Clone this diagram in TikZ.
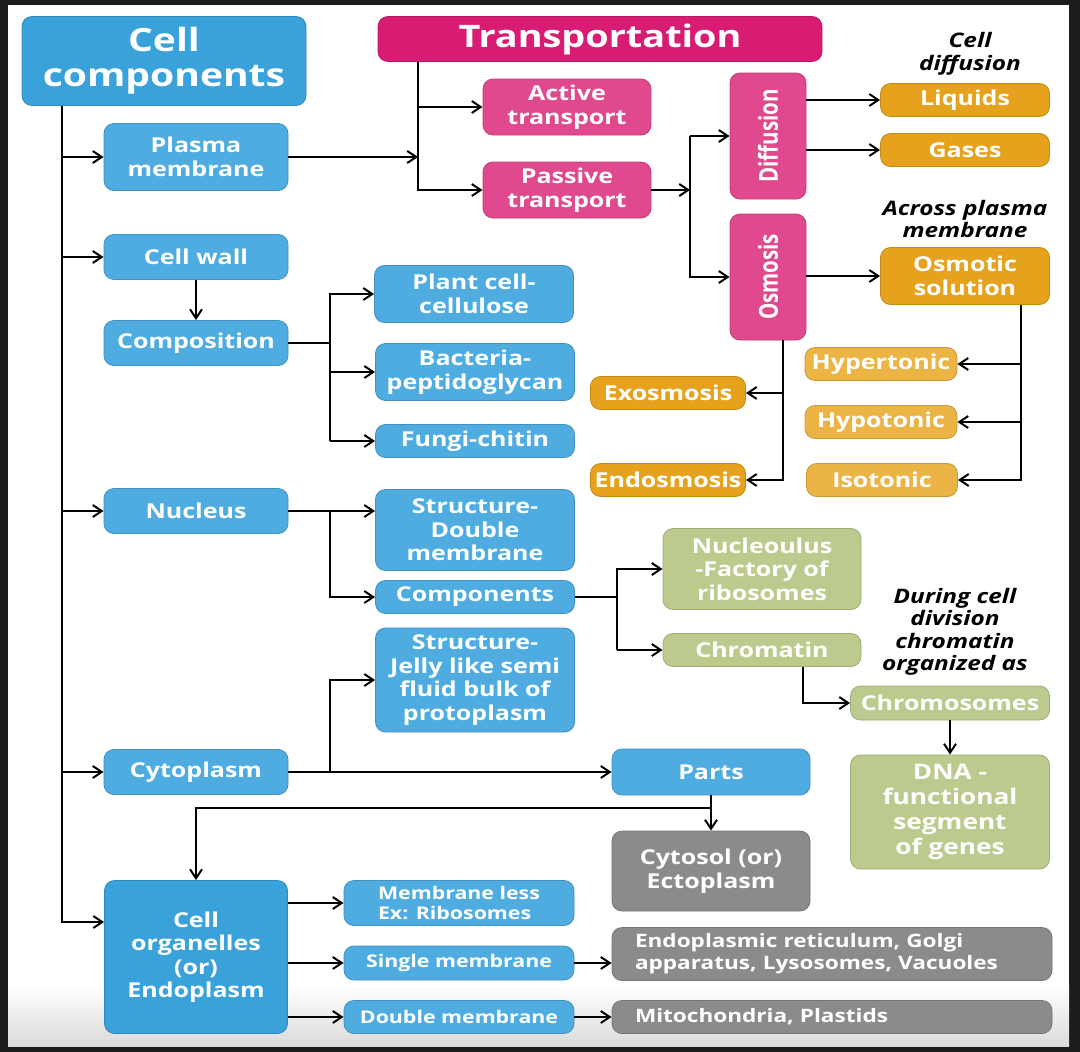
\documentclass[tikz,border=0pt]{standalone}
\usepackage{fontspec}
\setmainfont{Open Sans}[FakeStretch=1.22]
\newfontfamily\plainfont{Open Sans}
\usepackage{graphicx}
\usepackage{xcolor}
\usepackage{tikz}
\usetikzlibrary{arrows.meta}

\definecolor{cdeep}{HTML}{3AA2DB}
\definecolor{cblue}{HTML}{4EACE1}
\definecolor{cmag}{HTML}{D81C73}
\definecolor{cpink}{HTML}{E0498D}
\definecolor{corange}{HTML}{E6A21C}
\definecolor{clight}{HTML}{EBB445}
\definecolor{cgreen}{HTML}{BCCA8D}
\definecolor{cgrey}{HTML}{8B8B8B}
\definecolor{framebg}{HTML}{1C1C1C}

\begin{document}
\begin{tikzpicture}[
  x=1pt, y=-1pt,
  box/.style={
    rounded corners=10pt, align=center, text=white, inner sep=0pt,
    line width=0.8pt,
    font=\fontsize{20.5}{23.5}\selectfont\bfseries
  },
  sz/.style 2 args={minimum width=#1, minimum height=#2},
  deepbox/.style={box, fill=cdeep, draw=cdeep!85!black},
  bluebox/.style={box, fill=cblue, draw=cblue!85!black},
  magbox/.style={box, fill=cmag, draw=cmag!85!black},
  pinkbox/.style={box, fill=cpink, draw=cpink!85!black},
  orangebox/.style={box, fill=corange, draw=corange!85!black},
  tonebox/.style={box, fill=clight, draw=clight!85!black},
  greenbox/.style={box, fill=cgreen, draw=cgreen!85!black},
  greybox/.style={box, fill=cgrey, draw=cgrey!85!black},
  small/.style={font=\fontsize{17.5}{20}\selectfont\bfseries}, % testo piccolo
  note/.style={align=center, font=\fontsize{20}{22.5}\selectfont\bfseries\itshape},
  ln/.style={line width=2pt, black},
  arr/.style={ln, -{Straight Barb[length=9pt,width=12pt]}}
]
% sfondo
\fill[framebg] (0,0) rectangle (1080,1052);
\fill[white] (8,5) rectangle (1069,1046);
\shade[top color=white, bottom color=black!14] (8,985) rectangle (1069,1046);

% colonna sinistra
\node[deepbox, sz={284}{89}, font=\fontsize{32}{35}\selectfont\bfseries] (cc) at (164,61) {Cell\\components};
\node[bluebox, sz={184}{67}] (pm) at (196,157) {Plasma\\membrane};
\node[bluebox, sz={184}{45}] (cw) at (196,257) {Cell wall};
\node[bluebox, sz={184}{45}] (comp) at (196,343) {Composition};
\node[bluebox, sz={184}{45}] (nuc) at (196,511) {Nucleus};
\node[bluebox, sz={184}{45}] (cyto) at (196,772) {Cytoplasm};
\node[deepbox, sz={183}{153}] (org) at (196,957) {Cell\\organelles\\(or)\\Endoplasm};

% trasporto
\node[magbox, sz={444}{45}, font=\fontsize{31}{34}\selectfont\bfseries] (tr) at (600,39) {Transportation};
\node[pinkbox, sz={168}{56}] (act) at (567,107) {Active\\transport};
\node[pinkbox, sz={168}{56}] (pas) at (567,190) {Passive\\transport};
\node[pinkbox, sz={76}{126}] (diff) at (768,136) {\rotatebox{90}{\plainfont\bfseries\scalebox{1}[1.27]{Diffusion}}};
\node[pinkbox, sz={76}{126}] (osm) at (768,277) {\rotatebox{90}{\plainfont\bfseries\scalebox{1}[1.27]{Osmosis}}};
\node[note] (n1) at (970,54) {Cell\\diffusion};
\node[orangebox, sz={169}{33}] (liq) at (965,100) {Liquids};
\node[orangebox, sz={169}{33}] (gas) at (965,150) {Gases};
\node[note] (n2) at (965,219) {Across plasma\\membrane};
\node[orangebox, sz={169}{57}] (os) at (965,276) {Osmotic\\solution};
\node[tonebox, sz={152}{33}] (hyper) at (881,364) {Hypertonic};
\node[tonebox, sz={152}{33}] (hypo) at (881,422) {Hypotonic};
\node[tonebox, sz={151}{33}] (iso) at (882,480) {Isotonic};
\node[orangebox, sz={155}{33}] (exo) at (668,393) {Exosmosis};
\node[orangebox, sz={155}{33}] (endo) at (668,480) {Endosmosis};

% parete e nucleo
\node[bluebox, sz={199}{57}] (plant) at (474,294) {Plant cell-\\cellulose};
\node[bluebox, sz={199}{57}] (bact) at (475,372) {Bacteria-\\peptidoglycan};
\node[bluebox, sz={199}{33}] (fungi) at (475,441) {Fungi-chitin};
\node[bluebox, sz={199}{81}] (sdm) at (475,530) {Structure-\\Double\\membrane};
\node[bluebox, sz={199}{33}] (comps) at (475,597) {Components};
\node[bluebox, sz={199}{104}] (jelly) at (475,680) {Structure-\\Jelly like semi\\fluid bulk of\\protoplasm};
\node[greenbox, sz={198}{81}] (nucl) at (762,569) {Nucleoulus\\-Factory of\\ribosomes};
\node[greenbox, sz={198}{33}] (chrom) at (762,650) {Chromatin};
\node[note] (n3) at (955,632) {During cell\\division\\chromatin\\organized as};
\node[greenbox, sz={199}{34}] (chromo) at (950,703) {Chromosomes};
\node[greenbox, sz={199}{114}, font=\fontsize{21.5}{25}\selectfont\bfseries] (dna) at (950,812) {DNA -\\functional\\segment\\of genes};

% citoplasma
\node[bluebox, sz={198}{46}] (parts) at (711,772) {Parts};
\node[greybox, sz={198}{80}] (cytosol) at (711,871) {Cytosol (or)\\Ectoplasm};
\node[bluebox, small, sz={230}{45}, align=left] (ml) at (459,903) {Membrane less\\Ex: Ribosomes};
\node[bluebox, small, sz={230}{34}] (sm) at (459,963) {Single membrane};
\node[bluebox, small, sz={230}{33}] (dm) at (459,1017) {Double membrane};
\node[greybox, sz={440}{53}, text width=394, inner xsep=23, align=left,
  font=\fontsize{18.5}{22}\selectfont\bfseries] (er) at (832,954)
  {Endoplasmic reticulum, Golgi\\apparatus, Lysosomes, Vacuoles};
\node[greybox, sz={440}{33}, text width=394, inner xsep=23, align=left,
  font=\fontsize{18.5}{22}\selectfont\bfseries] (mito) at (832,1017)
  {Mitochondria, Plastids};

% linee guida
\coordinate (trunk) at (62,0);
\coordinate (ttrunk) at (418,0);
\coordinate (dtrunk) at (690,0);
\coordinate (otrunk) at (1021,0);
\coordinate (xtrunk) at (783,0);
\coordinate (ctrunk) at (330,0);
\coordinate (ntrunk) at (617,0);
\coordinate (htrunk) at (803,0);
\coordinate (split) at (711,808);

% connettori
\draw[arr] (trunk |- cc.south) |- ([yshift=35pt]org.west);
\foreach \n in {pm,cw,nuc,cyto}
  \draw[arr] (trunk |- \n.west) -- (\n.west);

\draw[arr] (pm.east) -- (ttrunk |- pm.east);
\draw[arr] (ttrunk |- tr.south) |- (pas.west);
\draw[arr] (ttrunk |- act.west) -- (act.west);

\draw[arr] (pas.east) -- (dtrunk |- pas.east);
\draw[arr] (dtrunk |- diff.west) |- (osm.west);
\draw[arr] (dtrunk |- diff.west) -- (diff.west);
\draw[arr] (diff.east |- liq.west) -- (liq.west);
\draw[arr] (diff.east |- gas.west) -- (gas.west);
\draw[arr] (osm.east |- os.west) -- (os.west);

\draw[arr] (otrunk |- os.south) |- (iso.east);
\foreach \n in {hyper,hypo}
  \draw[arr] (otrunk |- \n.east) -- (\n.east);
\draw[arr] (xtrunk |- osm.south) |- (endo.east);
\draw[arr] (xtrunk |- exo.east) -- (exo.east);

\draw[arr] (cw.south) -- (comp.north);
\draw[ln] (comp.east) -- (ctrunk |- comp.east);
\draw[arr] (ctrunk |- fungi.west) |- (plant.west);
\draw[arr] (ctrunk |- fungi.west) -- (fungi.west);
\draw[arr] (ctrunk |- bact.west) -- (bact.west);

\draw[arr] (nuc.east) -- (nuc.east -| sdm.west);
\draw[arr] (ctrunk |- nuc.east) |- (comps.west);
\draw[ln] (comps.east) -- (ntrunk |- comps.east);
\draw[arr] (ntrunk |- chrom.west) |- (nucl.west);
\draw[arr] (ntrunk |- chrom.west) -- (chrom.west);
\draw[arr] (htrunk |- chrom.south) |- (chromo.west);
\draw[arr] (chromo.south) -- (dna.north);

\draw[arr] (cyto.east) -- (parts.west);
\draw[arr] (ctrunk |- cyto.east) |- (jelly.west);
\draw[arr] (parts.south) -- (cytosol.north);
\draw[arr] (split) -| (org.north);

\foreach \n in {ml,sm,dm}
  \draw[arr] (org.east |- \n.west) -- (\n.west);
\draw[arr] (sm.east) -- (sm.east -| er.west);
\draw[arr] (dm.east) -- (mito.west);
\end{tikzpicture}
\end{document}
